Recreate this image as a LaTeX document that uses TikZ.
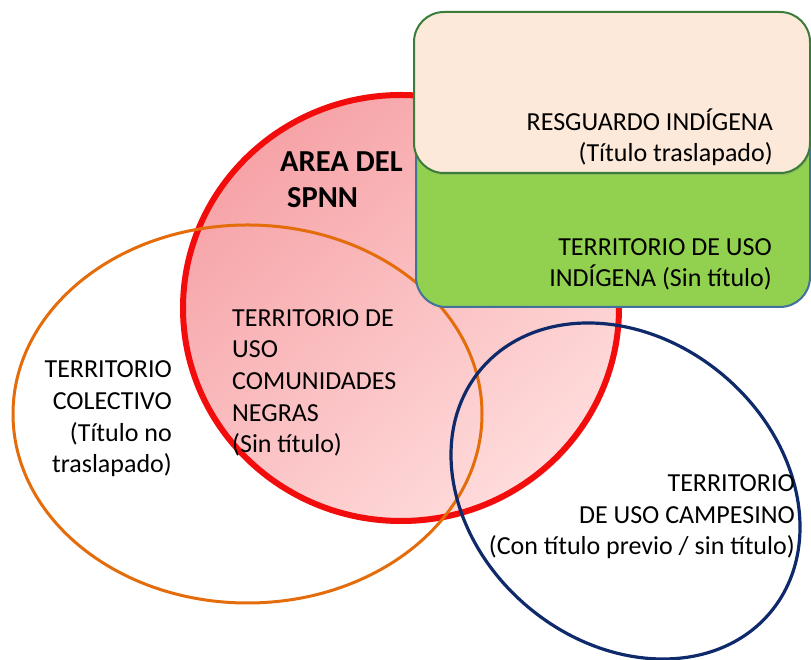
\documentclass[tikz,border=0pt]{standalone}
\usepackage{fontspec}
\setmainfont{Carlito}
\usetikzlibrary{shadows}
\definecolor{pinkdark}{HTML}{F6A3A7}
\definecolor{pinklight}{HTML}{FFDCDC}
\definecolor{redline}{HTML}{F20C0C}
\definecolor{orangeline}{HTML}{E46C0A}
\definecolor{navyline}{HTML}{0E2A6B}
\definecolor{greenfill}{HTML}{92D050}
\definecolor{bluegrey}{HTML}{41719C}
\definecolor{peachfill}{HTML}{FDE9D9}
\definecolor{darkgreen}{HTML}{3A7D3A}
\tikzset{
  lbl/.style={inner sep=0pt, font=\fontsize{26}{31.7}\selectfont, text=black},
  boxshape/.style={rounded corners=30pt, line width=2pt},
}
\begin{document}
\begin{tikzpicture}[x=1pt,y=1pt]
\useasboundingbox (0,0) rectangle (811,660);
% red circle (AREA DEL SPNN)
\path[drop shadow={shadow xshift=2pt,shadow yshift=-3pt,opacity=0.35},
      top color=pinkdark, bottom color=pinklight, shading angle=40,
      draw=redline, line width=6pt]
  (401,352) ellipse [x radius=218, y radius=213];
\coordinate (spnn) at (401,352);
% orange ellipse
\draw[orangeline, line width=3pt] (247.5,246) ellipse [x radius=234.5, y radius=189];
\coordinate (colectivo) at (247.5,246);
% navy ellipse
\draw[navyline, line width=3.2pt, rotate around={-40:(625.5,169)}]
  (625.5,169) ellipse [x radius=189, y radius=151.5];
\coordinate (campesino) at (625.5,169);
% green box
\draw[boxshape, fill=greenfill, draw=bluegrey] (416,353) rectangle (810,646);
\coordinate (usoind) at (613,500);
% peach box
\draw[boxshape, fill=peachfill, draw=darkgreen,
      drop shadow={shadow xshift=1pt,shadow yshift=-2pt,opacity=0.3}]
  (414,487) rectangle (810,648);
\coordinate (resguardo) at (612,567);
% texts (anchored at the baseline of the last line)
\node[lbl, anchor=base west, align=left, font=\fontsize{30.5}{36}\bfseries] (t1) at (280,452)
  {AREA DEL\\\hspace*{7pt}SPNN};
\node[lbl, anchor=base east, align=right] (t2) at (773,498)
  {RESGUARDO INDÍGENA\\(Título traslapado)};
\node[lbl, anchor=base east, align=right] (t3) at (772,373)
  {TERRITORIO DE USO\\INDÍGENA (Sin título)};
\node[lbl, anchor=base west, align=left] (t4) at (232,207)
  {TERRITORIO DE\\USO\\COMUNIDADES\\NEGRAS\\(Sin título)};
\node[lbl, anchor=base east, align=right] (t5) at (172,187)
  {TERRITORIO\\COLECTIVO\\(Título no\\traslapado)};
\node[lbl, anchor=base east, align=right] (t6) at (795,105)
  {TERRITORIO\\DE USO CAMPESINO\\(Con título previo / sin título)};
\end{tikzpicture}
\end{document}
